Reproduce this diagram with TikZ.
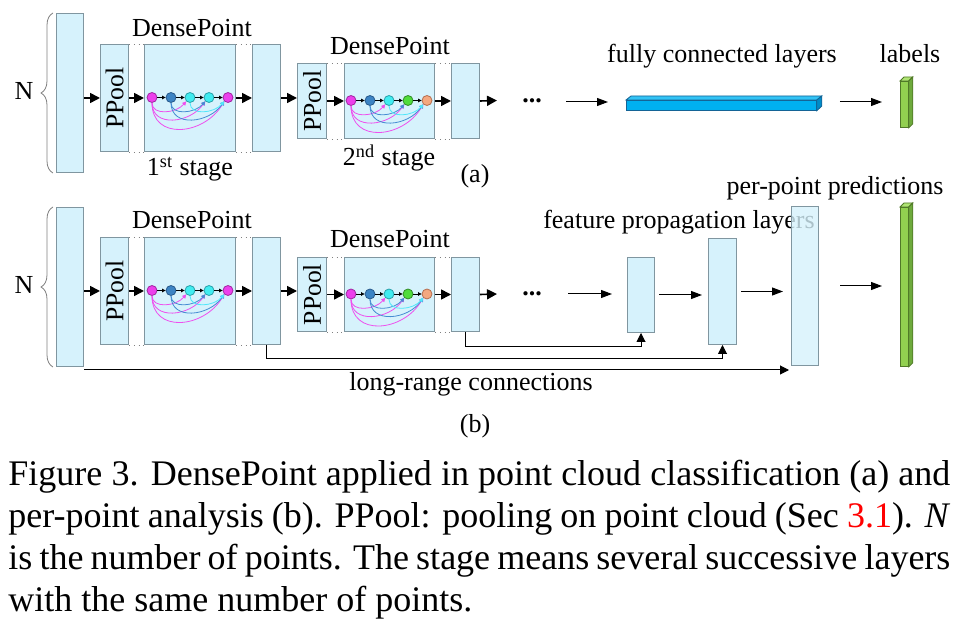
\documentclass[tikz,border=0pt]{standalone}
\usepackage{fontspec}
\setmainfont{Liberation Serif}
\usetikzlibrary{arrows.meta,calc,decorations.pathreplacing}
\definecolor{boxf}{RGB}{214,242,252}
\definecolor{boxd}{RGB}{128,150,160}
\definecolor{magf}{RGB}{236,64,236}
\definecolor{magd}{RGB}{160,40,160}
\definecolor{bluf}{RGB}{60,132,196}
\definecolor{blud}{RGB}{40,90,140}
\definecolor{cyaf}{RGB}{64,236,240}
\definecolor{cyad}{RGB}{40,160,170}
\definecolor{grnf}{RGB}{80,220,60}
\definecolor{grnd}{RGB}{50,140,40}
\definecolor{pchf}{RGB}{244,168,128}
\definecolor{pchd}{RGB}{180,110,80}
\definecolor{curm}{RGB}{238,80,238}
\definecolor{curb}{RGB}{70,140,210}
\definecolor{curc}{RGB}{80,230,250}
\definecolor{fcf}{RGB}{0,176,240}
\definecolor{fct}{RGB}{50,195,245}
\definecolor{fcs}{RGB}{0,140,200}
\definecolor{fcd}{RGB}{20,100,150}
\definecolor{lbf}{RGB}{146,208,80}
\definecolor{lbt}{RGB}{175,228,115}
\definecolor{lbs}{RGB}{110,170,60}
\definecolor{lbd}{RGB}{80,120,40}
\newcommand{\dpchain}[8]{%
  \node[dotn,#4] (#1-1) at (#2,#3) {};
  \node[dotn,#5] (#1-2) at (#2+19,#3) {};
  \node[dotn,#6] (#1-3) at (#2+38,#3) {};
  \node[dotn,#7] (#1-4) at (#2+57,#3) {};
  \node[dotn,#8] (#1-5) at (#2+76,#3) {};
  \draw[tny] (#1-1) -- (#1-2);
  \draw[tny] (#1-2) -- (#1-3);
  \draw[tny] (#1-3) -- (#1-4);
  \draw[tny] (#1-4) -- (#1-5);
  \draw[crvm] (#1-1.south) .. controls +(0,13) and +(-10,12) .. (#1-3.south west);
  \draw[crvm] (#1-1.south) .. controls +(0,25) and +(-15,22) .. (#1-4.south west);
  \draw[crvm] (#1-1.south) .. controls +(0,38) and +(-20,34) .. (#1-5.south west);
  \draw[crvb] (#1-2.south) .. controls +(0,13) and +(-10,12) .. (#1-4.south west);
  \draw[crvb] (#1-2.south) .. controls +(0,25) and +(-15,22) .. (#1-5.south west);
  \draw[crvc] (#1-3.south) .. controls +(0,13) and +(-10,12) .. (#1-5.south west);
}
\newcommand{\pptext}{\rotatebox{90}{\fontsize{12.8}{14}\selectfont PPool}}
\begin{document}
\begin{tikzpicture}[x=0.5pt,y=-0.5pt,
  box/.style={draw=boxd,fill=boxf,line width=0.5pt,inner sep=0pt,anchor=north west},
  lbl/.style={font=\fontsize{13}{15}\selectfont,inner sep=0pt,anchor=base},
  captxt/.style={font=\fontsize{18}{21}\selectfont,inner sep=0pt,anchor=base west},
  thk/.style={line width=0.8pt,-{Triangle[length=5pt,width=5pt]}},
  thn/.style={line width=0.5pt,-{Triangle[length=5.5pt,width=4pt]}},
  skp/.style={line width=0.5pt,-{Triangle[length=4.5pt,width=4.5pt]}},
  tny/.style={line width=0.4pt,-{Triangle[length=1.8pt,width=1.8pt]}},
  dotl/.style={draw=gray,dotted,line width=0.4pt},
  brc/.style={draw=gray,line width=0.4pt,decorate,decoration={brace,amplitude=6pt}},
  dotn/.style={circle,minimum size=5pt,inner sep=0pt,line width=0.4pt},
  dm/.style={fill=magf,draw=magd},
  db/.style={fill=bluf,draw=blud},
  dc/.style={fill=cyaf,draw=cyad},
  dg/.style={fill=grnf,draw=grnd},
  dpc/.style={fill=pchf,draw=pchd},
  crvm/.style={draw=curm,line width=0.4pt,-{Triangle[length=2pt,width=2pt]}},
  crvb/.style={draw=curb,line width=0.4pt,-{Triangle[length=2pt,width=2pt]}},
  crvc/.style={draw=curc,line width=0.4pt,-{Triangle[length=2pt,width=2pt]}},
  fcbar/.style={draw=fcd,fill=fcf,line width=0.4pt,inner sep=0pt,anchor=north west},
  lbbar/.style={draw=lbd,fill=lbf,line width=0.4pt,inner sep=0pt,anchor=north west}
]
\useasboundingbox[fill=white] (0,0) rectangle (959,641);

% ---------------- (a) ----------------
\node[box,minimum width=13.5pt,minimum height=79.5pt] (ain) at (56,13) {};
\node[box,minimum width=14pt,minimum height=53.5pt] (app1) at (100,44) {\pptext};
\node[box,minimum width=45.5pt,minimum height=53.5pt] (adp1) at (144,44) {};
\node[box,minimum width=14pt,minimum height=53.5pt] (ao1) at (252,44) {};
\node[box,minimum width=14.5pt,minimum height=37.5pt] (app2) at (297,63) {\pptext};
\node[box,minimum width=45pt,minimum height=37.5pt] (adp2) at (344,63) {};
\node[box,minimum width=14pt,minimum height=37.5pt] (ao2) at (451,63) {};

\draw[dotl] (app1.north east) -- (adp1.north west);
\draw[dotl] (app1.south east) -- (adp1.south west);
\draw[dotl] (adp1.north east) -- (ao1.north west);
\draw[dotl] (adp1.south east) -- (ao1.south west);
\draw[dotl] (app2.north east) -- (adp2.north west);
\draw[dotl] (app2.south east) -- (adp2.south west);
\draw[dotl] (adp2.north east) -- (ao2.north west);
\draw[dotl] (adp2.south east) -- (ao2.south west);

\draw[brc] ($(ain.south west)+(-3,0)$) -- ($(ain.north west)+(-3,0)$);
\node[lbl] (an) at (24,100) {N};

\dpchain{ca1}{152}{97.5}{dm}{db}{dc}{dc}{dm}
\dpchain{ca2}{351}{100.5}{dm}{db}{dc}{dg}{dpc}

\node[lbl] (adl1) at (192,36.7) {DensePoint};
\node[lbl] (adl2) at (390,55) {DensePoint};
\node[lbl] (ast1) at (190,176) {1\textsuperscript{st} stage};
\node[lbl] (ast2) at (389,166) {2\textsuperscript{nd} stage};
\node[lbl] (alab) at (475,183) {(a)};

\draw[thk] (ain.east |- app1) -- (app1.west);
\draw[thk] (app1.east) -- (adp1.west);
\draw[thk] (adp1.east) -- (ao1.west);
\draw[thk] (ao1.east) -- (ao1.east -| app2.west);
\draw[thk] (app2.east) -- (adp2.west);
\draw[thk] (adp2.east) -- (ao2.west);
\coordinate (aend) at (497,100.5);
\draw[thk] (ao2.east) -- (aend);
\node[lbl] (adots) at (532,103) {\textbf{...}};

\node[fcbar,minimum width=95pt,minimum height=5pt] (fc) at (626,100) {};
\draw[draw=fcd,fill=fct,line width=0.4pt] (fc.north west) -- ++(5,-4) -- ($(fc.north east)+(5,-4)$) -- (fc.north east) -- cycle;
\draw[draw=fcd,fill=fcs,line width=0.4pt] (fc.north east) -- ++(5,-4) -- ++(0,10) -- (fc.south east) -- cycle;
\node[lbl] (fcl) at (722,63) {fully connected layers};

\node[lbbar,minimum width=4pt,minimum height=23pt] (la) at (900,81) {};
\draw[draw=lbd,fill=lbt,line width=0.4pt] (la.north west) -- ++(4,-4) -- ($(la.north east)+(4,-4)$) -- (la.north east) -- cycle;
\draw[draw=lbd,fill=lbs,line width=0.4pt] (la.north east) -- ++(4,-4) -- ($(la.south east)+(4,-4)$) -- (la.south east) -- cycle;
\node[lbl] (lal) at (910,63) {labels};

\coordinate (afs) at (566,102);
\draw[thn,shorten >=9pt] (afs) -- (afs -| fc.west);
\draw[thn,shorten <=11.5pt,shorten >=9pt] (fc.east |- afs) -- (la.west |- afs);

% ---------------- (b) ----------------
\node[box,minimum width=13.5pt,minimum height=79.5pt] (bin) at (56,207) {};
\node[box,minimum width=14pt,minimum height=53.5pt] (bpp1) at (100,237) {\pptext};
\node[box,minimum width=45.5pt,minimum height=53.5pt] (bdp1) at (144,237) {};
\node[box,minimum width=14pt,minimum height=53.5pt] (bo1) at (252,237) {};
\node[box,minimum width=14.5pt,minimum height=37pt] (bpp2) at (297,257) {\pptext};
\node[box,minimum width=45pt,minimum height=37pt] (bdp2) at (344,257) {};
\node[box,minimum width=14pt,minimum height=37pt] (bo2) at (451,257) {};
\node[box,minimum width=13.5pt,minimum height=37.5pt] (fp1) at (627,257) {};
\node[box,minimum width=14pt,minimum height=53pt] (fp2) at (708,238) {};

\draw[dotl] (bpp1.north east) -- (bdp1.north west);
\draw[dotl] (bpp1.south east) -- (bdp1.south west);
\draw[dotl] (bdp1.north east) -- (bo1.north west);
\draw[dotl] (bdp1.south east) -- (bo1.south west);
\draw[dotl] (bpp2.north east) -- (bdp2.north west);
\draw[dotl] (bpp2.south east) -- (bdp2.south west);
\draw[dotl] (bdp2.north east) -- (bo2.north west);
\draw[dotl] (bdp2.south east) -- (bo2.south west);

\draw[brc] ($(bin.south west)+(-3,0)$) -- ($(bin.north west)+(-3,0)$);
\node[lbl] (bn) at (24,294) {N};

\dpchain{cb1}{152}{290.5}{dm}{db}{dc}{dc}{dm}
\dpchain{cb2}{351}{294}{dm}{db}{dc}{dg}{dpc}

\node[lbl] (bdl1) at (192,229) {DensePoint};
\node[lbl] (bdl2) at (390,247.7) {DensePoint};
\node[lbl] (fpl) at (679,228.3) {feature propagation layers};
\node[lbl] (ppl) at (835,194.5) {per-point predictions};
\node[lbl] (lrl) at (471,391) {long-range connections};
\node[lbl] (blab) at (475,433) {(b)};

\node[box,minimum width=13.5pt,minimum height=79.5pt,fill opacity=0.8] (pp) at (791,206) {};

\node[lbbar,minimum width=4pt,minimum height=79.5pt] (lb) at (900,207) {};
\draw[draw=lbd,fill=lbt,line width=0.4pt] (lb.north west) -- ++(4,-4) -- ($(lb.north east)+(4,-4)$) -- (lb.north east) -- cycle;
\draw[draw=lbd,fill=lbs,line width=0.4pt] (lb.north east) -- ++(4,-4) -- ($(lb.south east)+(4,-4)$) -- (lb.south east) -- cycle;

\draw[thk] (bin.east |- bpp1) -- (bpp1.west);
\draw[thk] (bpp1.east) -- (bdp1.west);
\draw[thk] (bdp1.east) -- (bo1.west);
\draw[thk] (bo1.east) -- (bo1.east -| bpp2.west);
\draw[thk] (bpp2.east) -- (bdp2.west);
\draw[thk] (bdp2.east) -- (bo2.west);
\coordinate (bend) at (497,294);
\draw[thk] (bo2.east) -- (bend);
\node[lbl] (bdots) at (532,296) {\textbf{...}};

\coordinate (bfs) at (568,294);
\draw[thn,shorten >=7.5pt] (bfs) -- (bfs -| fp1.west);
\draw[thn,shorten <=2pt,shorten >=3pt] (fp1.east) -- (fp1.east -| fp2.west);
\draw[thn,shorten <=2pt,shorten >=4pt] (fp2.east) -- (fp2.east -| pp.west);
\draw[thn,shorten <=10.5pt,shorten >=9pt] (pp.east) -- (pp.east -| lb.west);

\draw[skp] (bo1.south) -- ++(0,14) -| (fp2.south);
\draw[skp] (bo2.south) -- ++(0,15) -| (fp1.south);
\draw[skp] ($(bin.south east)+(0,3)$) -- ($(pp.south west)+(-2,4)$);

% ---------------- caption ----------------
\node[captxt] (c1) at (8,486) {\makebox[471pt][s]{Figure 3. DensePoint applied in point cloud classification (a) and}};
\node[captxt] (c2) at (8,527.7) {\makebox[471pt][s]{per-point analysis (b). PPool: pooling on point cloud (Sec \textcolor{red}{3.1}). \textit{N}}};
\node[captxt] (c3) at (8,569.4) {\makebox[471pt][s]{is the number of points. The stage means several successive layers}};
\node[captxt] (c4) at (8,611) {with the same number of points.};
\end{tikzpicture}
\end{document}
